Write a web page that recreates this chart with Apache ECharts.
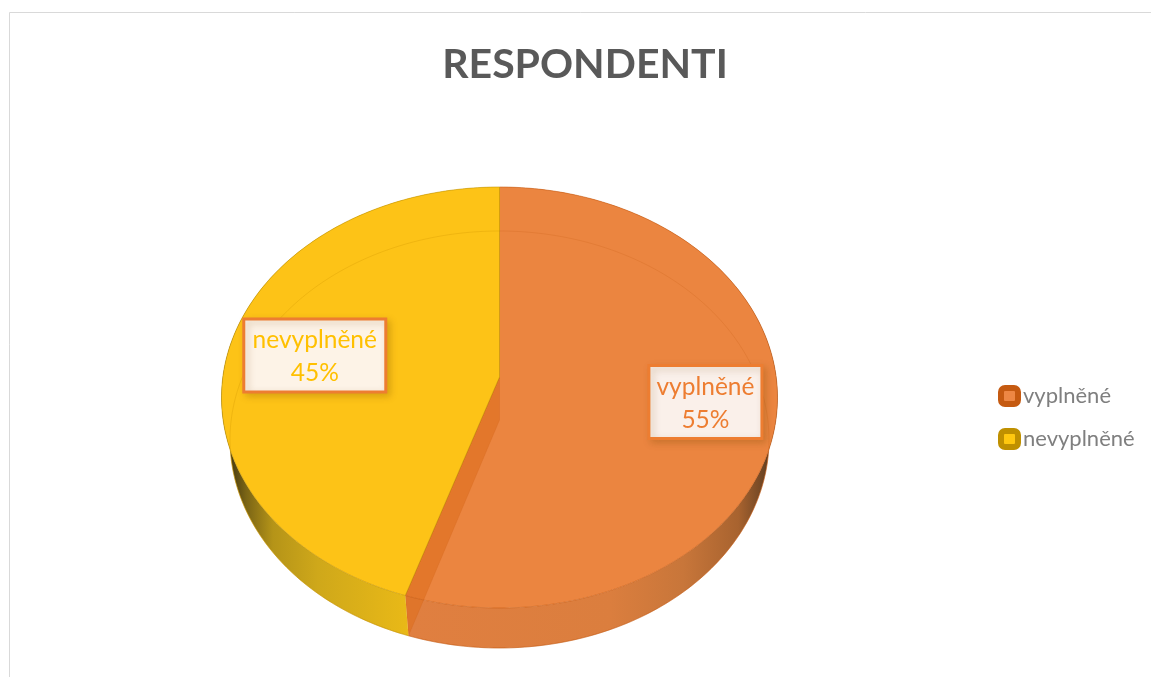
<!DOCTYPE html>
<html>
<head>
<meta charset="utf-8">
<style>html,body{margin:0;padding:0;background:#fff}#chart{width:1151px;height:677px}</style>
<script src="https://cdn.jsdelivr.net/npm/echarts@6/dist/echarts.min.js"></script>
</head>
<body>
<div id="chart"></div>
<script>
// Survey response share, drawn as a tilted 3D disc.
const titleText = 'RESPONDENTI';
const categories = ['vyplněné', 'nevyplněné'];
const shares = [55, 45];

const topColors = ['#EB8540', '#FDC317'];
const rimColors = ['#C55A11', '#BF9000'];
const ghostColors = ['rgba(197,90,17,0.22)', 'rgba(210,150,0,0.3)'];
const labelTextColors = ['#ED7D31', '#FFC000'];
const labelFills = ['#FAF0EA', '#FDF3E7'];
const labelRadii = [0.745, 0.683];
const labelBoxWidths = [113, 142];
const legendInner = ['#ED8744', '#FFC80F'];
const legendBorder = ['#C55A11', '#BF9000'];
const wallStops = [
  [[0, '#E07F40'], [0.55, '#DB7E3E'], [0.75, '#C8763A'], [0.9, '#A8632F'], [0.97, '#6E4524'], [1, '#4A3018']],
  [[0, '#3F3410'], [0.1, '#7A6415'], [0.25, '#B59418'], [0.5, '#CFA81A'], [1, '#E9B917']]
];
const wallSpans = [[408, 775], [228, 408]];

// Two perspective views of the same circle: upper face and lower face.
const upperDisc = { cx: 499.5, cy: 377, rx: 278, far: 190, near: 231 };
const lowerDisc = { cx: 499.5, cy: 420, rx: 269.5, far: 189, near: 228 };

function project(disc, angle, radius) {
  const k = (disc.far - disc.near) / (disc.far + disc.near);
  const b = disc.near * (1 + k);
  const a = disc.rx * Math.sqrt(1 - k * k);
  const u = Math.sin(angle) * radius;
  const v = -Math.cos(angle) * radius;
  const w = 1 + k * v;
  return [disc.cx + a * u / w, disc.cy + b * v / w];
}

function arc(disc, from, to) {
  const pts = [];
  const steps = Math.max(2, Math.ceil((to - from) / (Math.PI / 180)));
  for (let i = 0; i <= steps; i++) {
    pts.push(project(disc, from + (to - from) * i / steps, 1));
  }
  return pts;
}

const total = shares.reduce((s, v) => s + v, 0);

function renderSlice(params, api) {
  const i = params.seriesIndex;
  const value = api.value(0);
  const before = shares.slice(0, i).reduce((s, v) => s + v, 0);
  const from = before / total * Math.PI * 2;
  const to = from + value / total * Math.PI * 2;

  const upperArc = arc(upperDisc, from, to);
  const lowerArc = arc(lowerDisc, from, to);
  const upperCentre = project(upperDisc, 0, 0);
  const lowerCentre = project(lowerDisc, 0, 0);
  const children = [];

  const span = wallSpans[i];
  children.push({
    type: 'polygon',
    shape: { points: upperArc.concat(lowerArc.slice().reverse()) },
    style: {
      fill: new echarts.graphic.LinearGradient(span[0], 0, span[1], 0,
        wallStops[i].map(s => ({ offset: s[0], color: s[1] })), true)
    }
  });
  children.push({
    type: 'polyline',
    shape: { points: lowerArc },
    style: { fill: null, stroke: rimColors[i], lineWidth: 1, opacity: 0.5 }
  });
  children.push({
    type: 'polygon',
    shape: { points: [upperCentre].concat(upperArc) },
    style: { fill: topColors[i] }
  });
  children.push({
    type: 'polyline',
    shape: { points: lowerArc },
    style: { fill: null, stroke: ghostColors[i], lineWidth: 1 }
  });
  if (i === 0) {
    // Cut face of the first slice, visible through its translucent top.
    const e = upperArc[upperArc.length - 1];
    const f = lowerArc[lowerArc.length - 1];
    children.push({
      type: 'polygon',
      shape: { points: [upperCentre, e, f, lowerCentre] },
      style: { fill: 'rgba(222,112,30,0.62)', stroke: 'rgba(197,90,17,0.3)', lineWidth: 0.6 }
    });
  }
  children.push({
    type: 'polyline',
    shape: { points: [upperCentre].concat(upperArc).concat([upperCentre]) },
    style: { fill: null, stroke: rimColors[i], lineWidth: 1, opacity: 0.55 }
  });

  const mid = (from + to) / 2;
  const c = project(upperDisc, mid, labelRadii[i]);
  const boxW = labelBoxWidths[i];
  const boxH = 73;
  children.push({
    type: 'rect',
    shape: { x: c[0] - boxW / 2, y: c[1] - boxH / 2 + 0.5, width: boxW, height: boxH },
    style: {
      fill: labelFills[i], stroke: '#ED7D31', lineWidth: 3,
      shadowColor: 'rgba(120,70,0,0.25)', shadowBlur: 7, shadowOffsetX: 3, shadowOffsetY: 3
    }
  });
  children.push({
    type: 'text',
    style: {
      x: c[0], y: c[1] + 2,
      text: categories[i] + '\n' + Math.round(value / total * 100) + '%',
      fill: labelTextColors[i],
      font: '24.5px Lato',
      lineHeight: 33,
      align: 'center',
      verticalAlign: 'middle'
    }
  });
  return { type: 'group', children };
}

const chart = echarts.init(document.getElementById('chart'), null, { renderer: 'canvas' });
chart.setOption({
  animation: false,
  backgroundColor: '#ffffff',
  title: {
    text: titleText,
    left: 580,
    top: 39,
    textAlign: 'center',
    textStyle: { fontFamily: 'Lato', fontWeight: 'bold', fontSize: 41, color: '#595959' }
  },
  legend: {
    orient: 'vertical',
    left: 993,
    top: 380,
    itemWidth: 17,
    itemHeight: 16,
    itemGap: 21,
    selectedMode: false,
    textStyle: { fontFamily: 'Lato', fontSize: 22, color: '#7F7F7F' },
    data: categories.map((name, i) => ({
      name,
      icon: 'roundRect',
      itemStyle: { color: legendInner[i], borderColor: legendBorder[i], borderWidth: 6 }
    }))
  },
  graphic: [
    { type: 'polyline', silent: true, z: -1,
      shape: { points: [[9.5, 677], [9.5, 12.5], [1151, 12.5]] },
      style: { fill: null, stroke: '#D9D9D9', lineWidth: 1 } }
  ],
  series: categories.map((name, i) => ({
    type: 'custom',
    name,
    coordinateSystem: 'none',
    renderItem: renderSlice,
    silent: true,
    z: 2 + i,
    data: [[shares[i]]]
  }))
});
</script>
</body>
</html>
